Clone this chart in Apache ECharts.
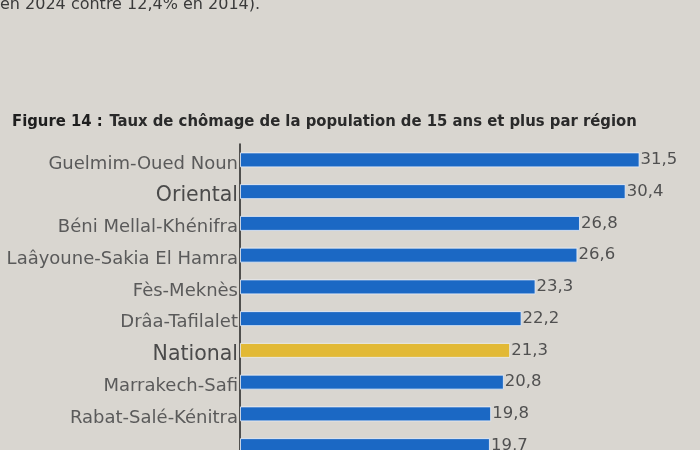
<!DOCTYPE html>
<html><head><meta charset="utf-8">
<script src="https://cdn.jsdelivr.net/npm/echarts@6/dist/echarts.min.js"></script>
<style>html,body{margin:0;padding:0;background:#d9d6d0}#c{width:700px;height:450px}</style>
</head><body><div id="c"></div>
<script>
const categories = ["Guelmim-Oued Noun","Oriental","Béni Mellal-Khénifra","Laâyoune-Sakia El Hamra","Fès-Meknès","Drâa-Tafilalet","National","Marrakech-Safi","Rabat-Salé-Kénitra",""];
const values = [31.5,30.4,26.8,26.6,23.3,22.2,21.3,20.8,19.8,19.7];
const highlight = ["Oriental","National"];
const nationalName = "National";
const titleText = "Taux de chômage de la population de 15 ans et plus par région";
const figLabel = "Figure 14 :";
const topText = "en 2024 contre 12,4% en 2014).";

const chart = echarts.init(document.getElementById('c'));
const data = values.map((v,i)=>({value:v,itemStyle:{color: categories[i]===nationalName ? '#e2b935' : '#1b68c4'}}));
chart.setOption({
  backgroundColor:'#d9d6d0',
  animation:false,
  graphic:[
    {type:'text',left:0,top:-3,style:{text:topText,font:'16px "DejaVu Sans"',fill:'#3a3a3a'}},
    {type:'text',left:12,top:113,style:{text:'{f|'+figLabel+'}  {t|'+titleText+'}',rich:{
      f:{fontSize:16.5,fontFamily:'DejaVu Sans Condensed',fontWeight:'bold',fill:'#1e1e1e'},
      t:{fontSize:16.5,fontFamily:'DejaVu Sans Condensed',fontWeight:'bold',fill:'#2a2a2a'}}}}
  ],
  grid:{left:240,right:16,top:144,height:317.5,containLabel:false,outerBoundsMode:'none'},
  xAxis:{type:'value',min:0,max:35,show:false},
  yAxis:{type:'category',inverse:true,data:categories,
    axisLine:{show:true,lineStyle:{color:'#222',width:1.5}},
    axisTick:{show:false},
    axisLabel:{margin:2,padding:[8,0,0,0],formatter:(v)=> highlight.includes(v)?'{b|'+v+'}':'{a|'+v+'}',
      rich:{a:{fontSize:18,fontFamily:'DejaVu Sans',color:'#5a5a5a'},
            b:{fontSize:20.5,fontFamily:'DejaVu Sans',color:'#4a4a4a'}}}},
  series:[{type:'bar',data:data,barWidth:15,
    itemStyle:{borderColor:'rgba(235,240,250,0.8)',borderWidth:1},
    label:{show:true,position:'right',distance:1,fontSize:16.5,fontFamily:'DejaVu Sans',color:'#505050',
      formatter:(p)=>String(p.value).replace('.',',')}}]
});
</script></body></html>
